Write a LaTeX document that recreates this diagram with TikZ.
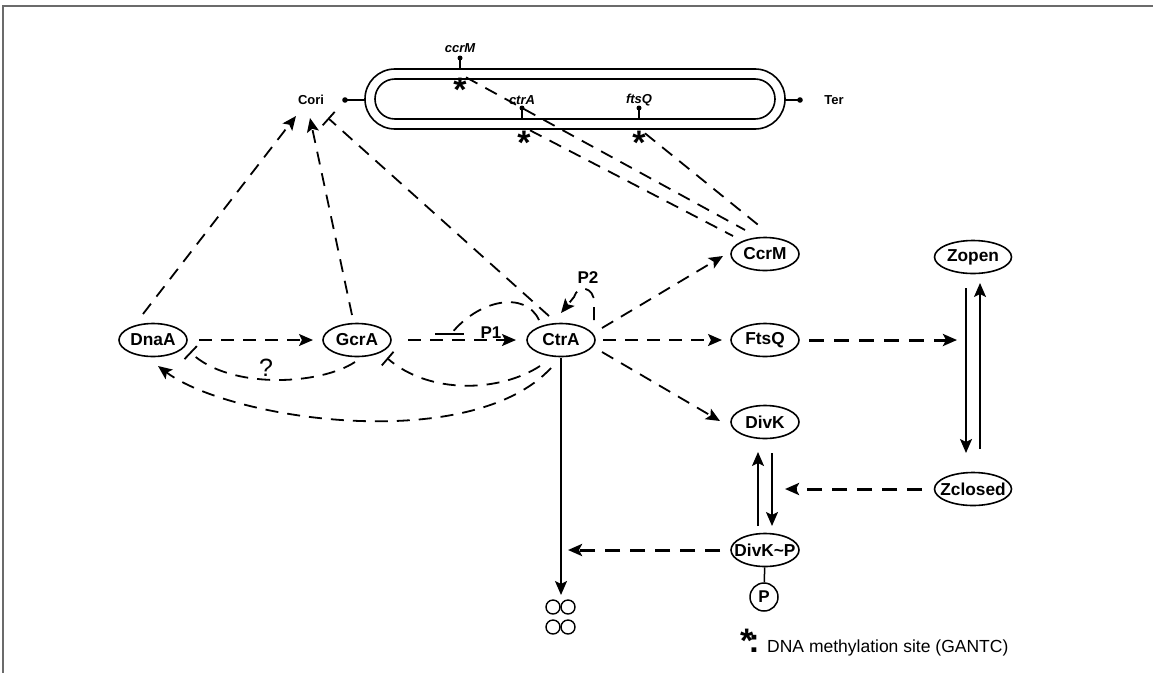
\documentclass[tikz,border=0pt]{standalone}
\usepackage{fontspec}
\setmainfont{Liberation Sans}
\usetikzlibrary{arrows.meta,shapes.geometric,calc}
\newcommand\mkzw[1]{\makebox[0pt]{#1}}
\definecolor{framegray}{HTML}{6B6B6B}
\begin{document}
\begin{tikzpicture}[x=1pt,y=-1pt,
  gene/.style={ellipse, draw, line width=1.6pt, minimum width=68pt, minimum height=33pt,
    inner sep=0pt, font=\fontsize{17.3}{20}\selectfont\bfseries},
  dsh/.style={dash pattern=on 13pt off 9pt, line width=1.8pt},
  bdsh/.style={dash pattern=on 15pt off 10pt, line width=3pt},
  sol/.style={line width=1.8pt},
  arr/.style={-{Stealth[length=14pt,width=12pt,inset=3pt]}},
  barend/.style={-{Bar[width=18pt,line width=1.8pt]}},
  glab/.style={font=\fontsize{13}{15}\selectfont\bfseries\itshape, anchor=base, inner sep=0pt},
  ast/.style={font=\fontsize{34}{34}\selectfont\bfseries, anchor=base, inner sep=0pt},
  endlab/.style={font=\fontsize{13}{15}\selectfont\bfseries, inner sep=0pt},
  plab/.style={font=\fontsize{17}{19}\selectfont\bfseries, inner sep=0pt}
]
\useasboundingbox (0,0) rectangle (1153,673);
% frame
\draw[framegray, line width=2pt] (1153,6) -- (3,6) -- (3,673);

% chromosome
\draw[line width=1.6pt, rounded corners=29.9pt] (365,69) rectangle (785,129);
\draw[line width=1.6pt, rounded corners=19.9pt] (375,79) rectangle (775,119);
\node[endlab] (Cori) at (311,100) {Cori};
\node[endlab] (Ter) at (834,100) {Ter};
\coordinate (cdot) at (345,100);
\coordinate (tdot) at (800,100);
\draw[sol] (cdot) -- (365,100);
\draw[sol] (785,100) -- (tdot);
\fill (cdot) circle (2.8pt);
\fill (tdot) circle (2.8pt);

% genes on chromosome
\coordinate (mdot) at (460,58);
\coordinate (adot) at (522,108);
\coordinate (fdot) at (639,108);
\draw[sol] (460,69) -- (mdot);
\draw[sol] (522,119) -- (adot);
\draw[sol] (639,119) -- (fdot);
\fill (mdot) circle (2.5pt);
\fill (adot) circle (2.5pt);
\fill (fdot) circle (2.5pt);
\node[glab] (gccrM) at (460,52) {ccrM};
\node[glab] (gctrA) at (522,104) {ctrA};
\node[glab] (gftsQ) at (639,103) {ftsQ};
\node[ast] (sM) at (460,101) {*};
\node[ast] (sA) at (524,154) {*};
\node[ast] (sF) at (639,154) {*};

% protein nodes
\node[gene] (DnaA) at (153,340) {\mkzw{DnaA}};
\node[gene] (GcrA) at (357,340) {\mkzw{GcrA}};
\node[gene] (CtrA) at (561,340) {\mkzw{CtrA}};
\node[gene] (CcrM) at (765,254) {\mkzw{CcrM}};
\node[gene] (FtsQ) at (765,340) {\mkzw{FtsQ}};
\node[gene] (DivK) at (765,422) {\mkzw{DivK}};
\node[gene] (DivKP) at (765,550) {\mkzw{DivK\textasciitilde P}};
\node[gene, minimum width=77pt] (Zopen) at (973,257) {\mkzw{Zopen}};
\node[gene, minimum width=77pt] (Zclosed) at (973,489) {\mkzw{Zclosed}};
\node[circle, draw, line width=1.5pt, minimum size=28pt, inner sep=0pt,
  font=\fontsize{17}{19}\selectfont\bfseries] (P) at (764,597) {P};

% division symbol (four circles)
\foreach \cx/\cy [count=\i] in {553/607, 568/607, 553/627, 568/627}
  \node[circle, draw, line width=1.4pt, minimum size=14pt, inner sep=0pt] (c\i) at (\cx,\cy) {};

\coordinate (zmid) at (957,340);
\coordinate (dkmid) at (785,489);
\coordinate (ctrmid) at (568,550);
\coordinate (divpt) at (561,595);

% labels
\node[plab, anchor=base] (P1) at (491,338) {P1};
\node[plab] (P2) at (588,278) {P2};
\node[font=\fontsize{25}{27}\selectfont, inner sep=0pt] (Q) at (266,368) {?};

% row arrows
\draw[dsh, arr] ($(DnaA)+(46,0)$) -- ($(GcrA)+(-44,0)$);
\draw[dsh, arr] ($(GcrA)+(51,0)$) -- ($(CtrA)+(-45,0)$);
\draw[dsh, arr] ($(CtrA)+(42,0)$) -- ($(FtsQ)+(-43,0)$);
\draw[dsh, arr] ($(CtrA)+(41,-12)$) -- ($(CcrM)+(-42,2)$);
\draw[dsh, arr] ($(CtrA)+(41,12)$) -- ($(DivK)+(-45,-1)$);

% to Cori
\draw[dsh, arr] ($(DnaA)+(-10,-26)$) -- ($(Cori)+(-15,16)$);
\draw[dsh, arr] ($(GcrA)+(-5,-25)$) -- ($(Cori)+(-1,18)$);
\draw[dsh, barend] ($(CtrA)+(-12,-24)$) -- ($(Cori)+(17,18)$);

% CcrM to methylation sites
\draw[dsh] ($(sM)+(6,-12)$) -- ($(CcrM)+(-20,-24)$);
\draw[dsh] ($(sA)+(6,-12)$) -- ($(CcrM)+(-32,-18)$);
\draw[dsh] ($(sF)+(6,-9)$) -- ($(CcrM)+(-3,-26)$);

% CtrA autoregulation
\draw[dsh] ($(CtrA)+(-22,-20)$) .. controls (525,290) and (478,300) .. (451,334);
\draw[sol] (435,334) -- (464,334);
\draw[dsh, arr] ($(CtrA)+(33,-20)$) -- (594,302) .. controls (594,287) and (578,284) .. (574,297) -- ($(CtrA)+(0,-27)$);

% lower curves
\draw[dsh, barend] ($(GcrA)+(-2,22)$) .. controls (320,385) and (230,390) .. ($(DnaA)+(37,12)$);
\draw[dsh, barend] ($(CtrA)+(-21,26)$) .. controls (500,392) and (430,395) .. ($(GcrA)+(30,18)$);
\draw[dsh, arr] ($(CtrA)+(-10,28)$) .. controls (470,455) and (230,420) .. ($(DnaA)+(5,26)$);

% right part
\draw[bdsh, arr] ($(FtsQ)+(44,0)$) -- (zmid);
\draw[bdsh, arr] ($(Zclosed)+(-51,0)$) -- (dkmid);
\draw[bdsh, arr] ($(DivKP)+(-45,0)$) -- (ctrmid);
\draw[sol, arr] ($(Zopen)+(-7,31)$) -- ($(Zclosed)+(-7,-36)$);
\draw[sol, arr] ($(Zclosed)+(7,-40)$) -- ($(Zopen)+(7,26)$);
\draw[sol, arr] ($(DivKP)+(-7,-24)$) -- ($(DivK)+(-7,30)$);
\draw[sol, arr] ($(DivK)+(7,31)$) -- ($(DivKP)+(7,-24)$);
\draw[sol, arr] ($(CtrA)+(0,18)$) -- (divpt);
\draw[line width=1.5pt] (DivKP) -- (P);

% legend
\node[font=\fontsize{34}{34}\selectfont\bfseries, anchor=base west, inner sep=0pt] (lkey) at (740,652) {*\kern-5pt:};
\node[font=\fontsize{17.5}{20}\selectfont, anchor=base west, inner sep=0pt] (ltext) at (767,652) {DNA methylation site (GANTC)};
\end{tikzpicture}
\end{document}
